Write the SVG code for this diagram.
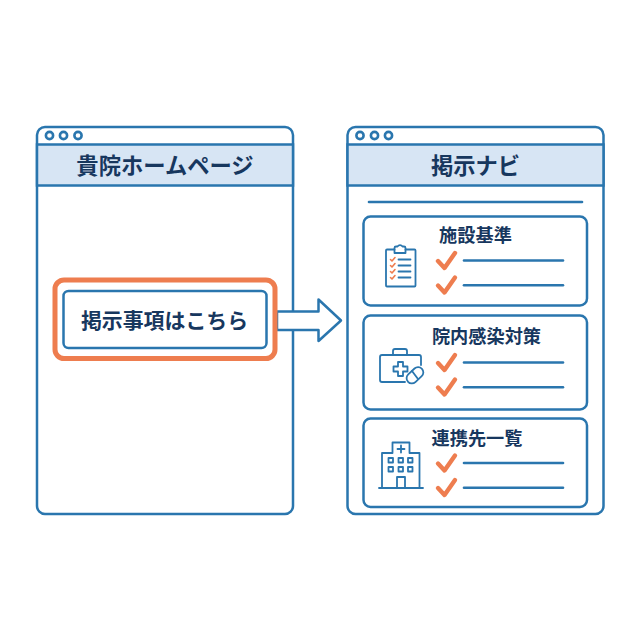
<svg xmlns="http://www.w3.org/2000/svg" width="640" height="640" viewBox="0 0 640 640">
<style>
text{font-family:"Noto Sans CJK JP","Noto Sans",sans-serif;font-weight:700;fill:#17375e;text-anchor:middle}
.b{fill:none;stroke:#2a76ae;stroke-width:2.5;stroke-linecap:round;stroke-linejoin:round}
.w{fill:#fff;stroke:#2a76ae;stroke-width:2.500;stroke-linejoin:round}
.h{fill:#d7e5f4;stroke:#2a76ae;stroke-width:2.500}
.d{fill:none;stroke:#2a76ae;stroke-width:2.600}
.l{fill:none;stroke:#2a76ae;stroke-width:2.600;stroke-linecap:round}
.i{fill:none;stroke:#2a76ae;stroke-width:1.800;stroke-linecap:round;stroke-linejoin:round}
.c{fill:none;stroke:#ee7d4f;stroke-width:4.400;stroke-linecap:round;stroke-linejoin:round}
.s{fill:none;stroke:#ee7d4f;stroke-width:1.600;stroke-linecap:round;stroke-linejoin:round}
.t{font-size:22.300px}
.u{font-size:18.200px}
</style>
<defs>
<g id="checks">
<path class="c" d="M0 0.500l6.500 7L17 -7.500"/>
<path class="l" d="M26 0H125"/>
<path class="c" d="M0 25l6.500 7L17 17"/>
<path class="l" d="M26 24.700H125"/>
</g>
</defs>
<g id="window-left">
<rect class="w" x="37" y="127" width="256" height="387" rx="8"/>
<rect class="h" x="37" y="144.500" width="256" height="41"/>
<circle class="d" cx="49.500" cy="135.500" r="3.600"/><circle class="d" cx="63.500" cy="135.500" r="3.600"/><circle class="d" cx="78" cy="135.500" r="3.600"/>
<text class="t" x="165" y="174">貴院ホームページ</text>
</g>
<g id="window-right">
<rect class="w" x="347.500" y="127" width="256" height="387" rx="8"/>
<rect class="h" x="347.500" y="144.500" width="256" height="41"/>
<circle class="d" cx="360" cy="135.500" r="3.600"/><circle class="d" cx="374.500" cy="135.500" r="3.600"/><circle class="d" cx="388.500" cy="135.500" r="3.600"/>
<text class="t" x="475.500" y="174">掲示ナビ</text>
<path class="l" d="M369 202H582"/>
</g>
<g id="connectors">
<path class="w" d="M277 311.500H318.500V299.500L341 320.500L318.500 341V330H277Z"/>
</g>
<g id="button">
<rect x="55" y="280" width="220" height="78.500" rx="9" fill="#fff" stroke="#ee7d4f" stroke-width="5"/>
<rect class="w" x="63.500" y="291" width="203" height="57" rx="5"/>
<text x="164.500" y="328" font-size="20.900">掲示事項はこちら</text>
</g>
<g id="card-1">
<rect class="w" x="363.500" y="216.500" width="223.500" height="89" rx="7"/>
<text class="u" x="475.500" y="242">施設基準</text>
<path class="i" d="M388 249.500H394.500V248a1.500 1.500 0 0 1 1.500-1.500H397.500a3 3 0 0 1 5 0H404a1.500 1.500 0 0 1 1.500 1.500V249.500H414.500a1 1 0 0 1 1 1V285.500a1 1 0 0 1-1 1H387a1 1 0 0 1-1-1V250.500a1 1 0 0 1 1-1Z"/>
<path class="i" d="M394.500 249.500V253H405.500V249.500"/>
<path class="i" d="M398.500 259.500H410.500M398.500 265.500H410.500M398.500 271.500H410.500M398.500 277.500H410.500"/>
<path class="s" d="M390.500 259.500l1.500 1.500l3-3.500M390.500 265.500l1.500 1.500l3-3.500M390.500 271.500l1.500 1.500l3-3.500M390.500 277.500l1.500 1.500l3-3.500"/>
<use href="#checks" x="438" y="260.500"/>
</g>
<g id="card-2">
<rect class="w" x="363.500" y="315.500" width="223.500" height="94" rx="7"/>
<text class="u" x="486.500" y="343">院内感染対策</text>
<path class="i" d="M421 365V357a2 2 0 0 0-2-2H382a2 2 0 0 0-2 2V380a2 2 0 0 0 2 2H405"/>
<path class="i" d="M393 355V351a2 2 0 0 1 2-2H405a2 2 0 0 1 2 2V355"/>
<path class="i" d="M398 362h5v4.500h4.500v5H403v4.500h-5v-4.500h-4.500v-5H398Z"/>
<rect class="i" x="405.500" y="370" width="19" height="10.500" rx="5.200" transform="rotate(-43 415 375.300)" style="fill:#fff"/>
<path class="i" d="M412 371l6 8"/>
<use href="#checks" x="438" y="362.500"/>
</g>
<g id="card-3">
<rect class="w" x="363.500" y="418.500" width="223.500" height="88.500" rx="7"/>
<text class="u" x="477" y="445">連携先一覧</text>
<path class="i" d="M379 488H423M382 488V453H392.500V442.500H409.500V453H419.500V488"/>
<path class="i" d="M401 445.500V452.500M397.500 449H404.500"/>
<path class="i" d="M397 488V477H405V488"/>
<path class="i" d="M388.500 458h4.500v4.500h-4.500ZM398.500 458h4.500v4.500h-4.500ZM408 458h4.500v4.500h-4.500ZM388.500 467h4.500v4.500h-4.500ZM398.500 467h4.500v4.500h-4.500ZM408 467h4.500v4.500h-4.500Z"/>
<use href="#checks" x="438" y="463"/>
</g>
</svg>
